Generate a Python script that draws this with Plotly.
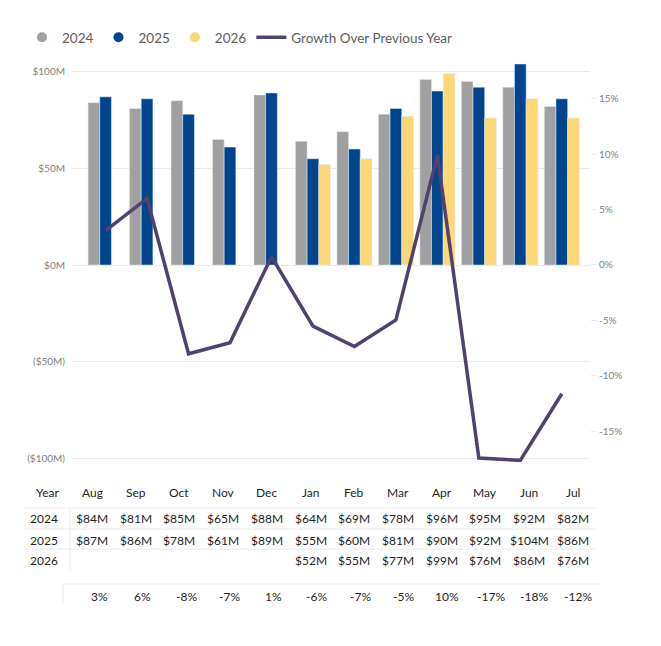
import plotly.graph_objects as go

months = ["Aug", "Sep", "Oct", "Nov", "Dec", "Jan", "Feb", "Mar", "Apr", "May", "Jun", "Jul"]
sales_2024 = [84, 81, 85, 65, 88, 64, 69, 78, 96, 95, 92, 82]
sales_2025 = [87, 86, 78, 61, 89, 55, 60, 81, 90, 92, 104, 86]
sales_2026 = [None, None, None, None, None, 52, 55, 77, 99, 76, 86, 76]
growth = [0.031, 0.060, -0.080, -0.070, 0.0075, -0.055, -0.0735, -0.0495, 0.099, -0.174, -0.176, -0.116]
growth_labels = ["3%", "6%", "-8%", "-7%", "1%", "-6%", "-7%", "-5%", "10%", "-17%", "-18%", "-12%"]

left_ticks = [-100, -50, 0, 50, 100]
left_labels = ["($100M)", "($50M)", "$0M", "$50M", "$100M"]
right_ticks = [-0.15, -0.10, -0.05, 0, 0.05, 0.10, 0.15]
right_labels = ["-15%", "-10%", "-5%", "0%", "5%", "10%", "15%"]

colors = {"2024": "#A0A0A0", "2025": "#02458F", "2026": "#FDD675"}
line_color = "#50416F"
font = "Segoe UI, Lato, Noto Sans, sans-serif"

# page body has an 8px margin, so the figure is a bit smaller than the window
OFF = 8
W, H = 661 - 2 * OFF, 646 - 2 * OFF
L, R, T, B = 72, 590, 58, 462  # plot area in window pixels


def px_x(p):
    return (p - L) / (R - L)


def px_y(p):
    return (B - p) / (B - T)


fig = go.Figure()
series = [("2024", sales_2024), ("2025", sales_2025), ("2026", sales_2026)]
for name, vals in series:
    fig.add_trace(go.Bar(x=months, y=vals, name=name, marker_color=colors[name],
                         showlegend=False, legendgroup=name))
    # round legend markers like the original
    fig.add_trace(go.Scatter(x=[None], y=[None], mode="markers", name=name,
                             marker=dict(color=colors[name], size=10), legendgroup=name))

fig.add_trace(go.Scatter(x=months, y=growth, yaxis="y2", mode="lines",
                         name="Growth Over Previous Year",
                         line=dict(color=line_color, width=3.5)))

annotations = []
shapes = []
txt = dict(family=font, size=12, color="#252423")

# table header
col_x = [92 + 43.7 * i for i in range(len(months))]
annotations.append(dict(text="Year", x=px_x(47), y=px_y(492), xref="paper", yref="paper",
                        showarrow=False, font=txt, xanchor="center", yanchor="middle"))
for m, cx in zip(months, col_x):
    annotations.append(dict(text=m, x=px_x(cx), y=px_y(492), xref="paper", yref="paper",
                            showarrow=False, font=txt, xanchor="center", yanchor="middle"))

row_y = {"2024": 519, "2025": 540, "2026": 560}
for name, vals in series:
    annotations.append(dict(text=name, x=px_x(28), y=px_y(row_y[name]), xref="paper", yref="paper",
                            showarrow=False, font=txt, xanchor="left", yanchor="middle"))
    for v, cx in zip(vals, col_x):
        if v is None:
            continue
        annotations.append(dict(text="$%dM" % v, x=px_x(cx), y=px_y(row_y[name]), xref="paper",
                                yref="paper", showarrow=False, font=txt,
                                xanchor="center", yanchor="middle"))

growth_x = [99 + 43.5 * i for i in range(len(months))]
for g, gx in zip(growth_labels, growth_x):
    annotations.append(dict(text=g, x=px_x(gx), y=px_y(596), xref="paper", yref="paper",
                            showarrow=False, font=txt, xanchor="center", yanchor="middle"))

grid = "#EAEAEA"
for y0 in [508, 529, 549]:
    shapes.append(dict(type="line", xref="paper", yref="paper", x0=px_x(25), x1=px_x(595),
                       y0=px_y(y0), y1=px_y(y0), line=dict(color=grid, width=1)))
shapes.append(dict(type="line", xref="paper", yref="paper", x0=px_x(70), x1=px_x(70),
                   y0=px_y(508), y1=px_y(570), line=dict(color=grid, width=1)))
shapes.append(dict(type="line", xref="paper", yref="paper", x0=px_x(63), x1=px_x(598),
                   y0=px_y(584), y1=px_y(584), line=dict(color=grid, width=1)))
shapes.append(dict(type="line", xref="paper", yref="paper", x0=px_x(63), x1=px_x(63),
                   y0=px_y(584), y1=px_y(605), line=dict(color=grid, width=1)))

fig.update_layout(
    width=W, height=H,
    margin=dict(l=L - OFF, r=W - (R - OFF), t=T - OFF, b=H - (B - OFF)),
    paper_bgcolor="white", plot_bgcolor="white",
    barmode="group", bargap=0.155, bargroupgap=0,
    font=dict(family=font, color="#666"),
    legend=dict(orientation="h", x=px_x(22), y=px_y(22), xanchor="left", yanchor="top",
                font=dict(size=13.5, color="#605E5C"), itemwidth=30, tracegroupgap=0),
    xaxis=dict(range=[-0.81, 11.68], showticklabels=False, showgrid=False,
               zeroline=False, showline=False, fixedrange=True),
    yaxis=dict(range=[-101.9, 107.1], tickvals=left_ticks, ticktext=left_labels,
               showgrid=True, gridcolor=grid, zeroline=False, ticks="",
               tickfont=dict(size=10, color="#7F7F7F"), ticklabelstandoff=6),
    yaxis2=dict(range=[-0.1775, 0.1865], overlaying="y", side="right",
                tickvals=right_ticks, ticktext=right_labels, showgrid=False, zeroline=False,
                ticks="outside", ticklen=6, tickcolor=grid,
                tickfont=dict(size=10, color="#7F7F7F")),
    annotations=annotations,
    shapes=shapes,
)

fig.write_html("out.html")
